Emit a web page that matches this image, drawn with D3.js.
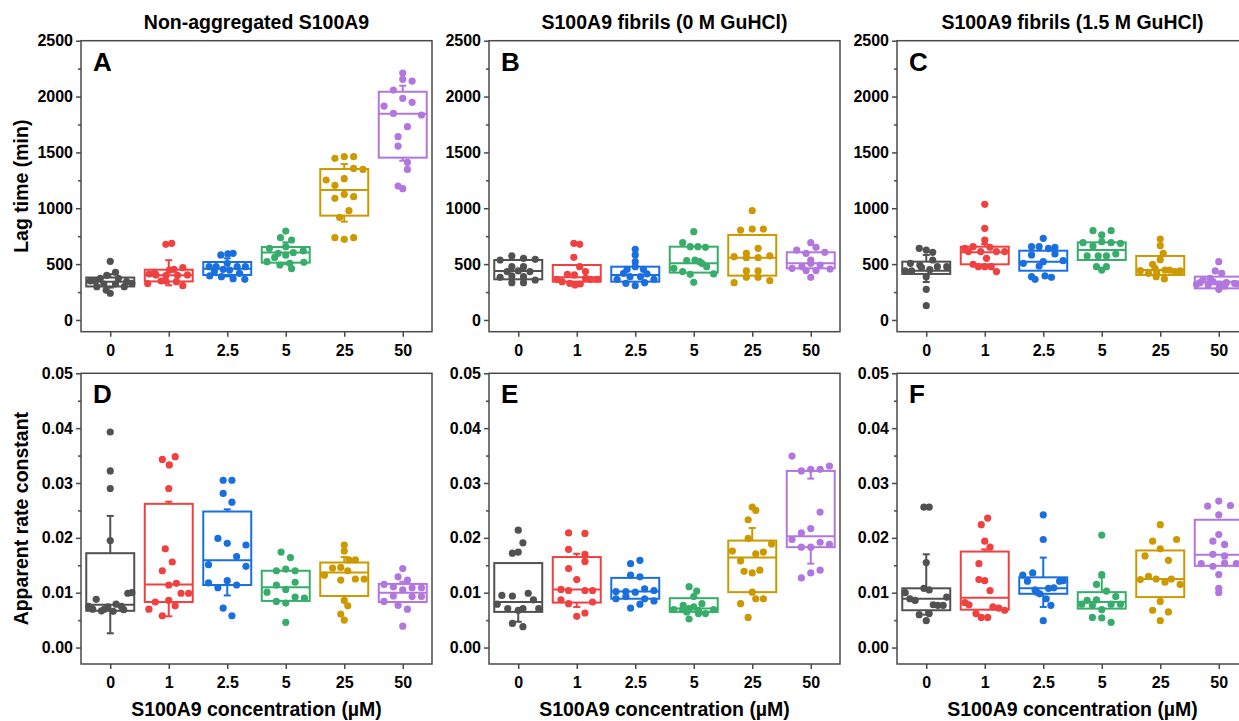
<!DOCTYPE html>
<html lang="en">
<head>
<meta charset="UTF-8">
<title>S100A9 lag time and rate constant</title>
<script src="https://cdnjs.cloudflare.com/ajax/libs/d3/7.8.5/d3.min.js"></script>
<style>
  body { margin: 0; background: #fff; }
  text { font-family: "Liberation Sans", Arial, sans-serif; font-weight: bold; fill: #000; }
</style>
</head>
<body>
<div id="chart"></div>
<script>
// categories
var concentrations = ["0", "1", "2.5", "5", "25", "50"];
var panelTitles = ["Non-aggregated S100A9", "S100A9 fibrils (0 M GuHCl)", "S100A9 fibrils (1.5 M GuHCl)"];
var panelLetters = [["A", "B", "C"], ["D", "E", "F"]];
var lagTicks = [0, 500, 1000, 1500, 2000, 2500];
var rateTicks = [0, 0.01, 0.02, 0.03, 0.04, 0.05];

// box stats per concentration: [q1, median, q3, whisker low, whisker high]
var lagBoxA = [[300, 343, 380, 290, 410], [345, 400, 450, 310, 535], [403, 459, 519, 390, 552],
               [513, 603, 653, 500, 695], [934, 1163, 1351, 880, 1396], [1453, 1846, 2043, 1426, 2097]];
var lagBoxB = [[364, 439, 537, 364, 537], [343, 382, 492, 343, 492], [343, 403, 477, 343, 477],
               [424, 507, 656, 424, 656], [397, 558, 761, 397, 761], [462, 507, 606, 462, 606]];
var lagBoxC = [[412, 441, 522, 340, 582], [498, 606, 656, 498, 680], [441, 522, 620, 441, 620],
               [537, 626, 695, 537, 695], [403, 447, 573, 403, 573], [283, 343, 388, 283, 388]];
var rateBoxD = [[0.0067, 0.0078, 0.0172, 0.0026, 0.0240], [0.0083, 0.0115, 0.0262, 0.0057, 0.0266],
                [0.0114, 0.0159, 0.0248, 0.0095, 0.0252], [0.0085, 0.0110, 0.0140, 0.0085, 0.0140],
                [0.0094, 0.0137, 0.0155, 0.0094, 0.0165], [0.0083, 0.0100, 0.0116, 0.0083, 0.0120]];
var rateBoxE = [[0.0065, 0.0083, 0.0154, 0.0047, 0.0154], [0.0082, 0.0106, 0.0165, 0.0074, 0.0171],
                [0.0089, 0.0102, 0.0127, 0.0089, 0.0127], [0.0065, 0.0071, 0.0090, 0.0065, 0.0090],
                [0.0101, 0.0164, 0.0195, 0.0101, 0.0218], [0.0183, 0.0203, 0.0322, 0.0153, 0.0308]];
var rateBoxF = [[0.0068, 0.0089, 0.0108, 0.0060, 0.0170], [0.0069, 0.0091, 0.0175, 0.0069, 0.0179],
                [0.0098, 0.0108, 0.0128, 0.0074, 0.0164], [0.0071, 0.0083, 0.0101, 0.0071, 0.0128],
                [0.0092, 0.0125, 0.0177, 0.0092, 0.0177], [0.0149, 0.0169, 0.0233, 0.0149, 0.0233]];

// individual measurements: [jitter (% of category step), value]
var lagPointsA = [
  [[0,525],[9,427],[-6,400],[-17,373],[14,373],[-34,349],[28,343],[37,328],[-23,298],[24,298],[-7,268],[0,239],[-11,322],[9,322],[-26,349]],
  [[-36,325],[-24,418],[-13,349],[-5,349],[1,447],[9,453],[24,468],[-22,403],[13,343],[24,307],[32,403],[-5,397],[15,400],[-33,412],[-5,677],[5,686]],
  [[-11,582],[1,591],[10,597],[-31,477],[-19,477],[-7,453],[4,447],[17,477],[31,477],[-30,394],[-10,388],[10,370],[30,364],[21,418],[-22,433],[0,507]],
  [[0,796],[-9,737],[10,716],[-28,641],[0,656],[-13,597],[13,603],[30,618],[-32,522],[-10,492],[7,507],[31,516],[10,459],[0,580],[-19,560]],
  [[-16,1447],[0,1462],[16,1462],[16,1357],[32,1348],[-31,1253],[-16,1205],[0,1265],[0,1125],[-16,1089],[16,1104],[8,978],[-8,919],[-16,737],[0,722],[16,737]],
  [[0,2210],[0,2154],[16,2139],[-16,2058],[0,1984],[16,1948],[-32,1915],[-16,1849],[32,1835],[8,1730],[-8,1641],[-8,1557],[8,1411],[8,1348],[-8,1199],[0,1175]]
];
var lagPointsB = [
  [[-31,537],[-11,573],[9,552],[29,543],[-11,477],[9,477],[-31,382],[-11,394],[9,388],[29,358],[-11,334],[9,334],[0,439],[-19,433],[20,433]],
  [[-5,686],[5,677],[-5,561],[5,477],[15,433],[-16,409],[-4,403],[-34,364],[-25,343],[-12,328],[-3,313],[6,322],[23,364],[35,364],[15,373]],
  [[0,632],[0,582],[0,522],[-14,453],[14,453],[-31,364],[-16,328],[0,307],[16,334],[32,364],[-9,388],[9,388],[-20,418],[20,412],[0,477]],
  [[0,790],[-19,692],[-6,656],[7,656],[20,650],[-12,531],[2,537],[14,507],[22,477],[-34,462],[-19,433],[-6,409],[34,412],[0,337],[10,522]],
  [[0,978],[-20,805],[0,814],[19,814],[-10,597],[10,641],[-31,567],[-10,558],[10,558],[30,573],[-10,439],[10,439],[-31,334],[-10,382],[10,382],[30,352]],
  [[0,692],[-24,626],[9,650],[-8,597],[24,606],[0,537],[-32,462],[-15,477],[0,507],[16,492],[33,456],[0,382],[-8,442],[9,442]]
];
var lagPointsC = [
  [[-12,641],[0,626],[11,606],[-27,507],[-11,492],[11,537],[-36,439],[-25,439],[-8,468],[19,477],[35,477],[0,388],[0,274],[0,128],[6,450]],
  [[0,1035],[0,820],[0,716],[-34,641],[-20,656],[9,650],[-7,612],[20,612],[34,612],[3,552],[-20,498],[-11,477],[0,477],[11,477],[20,433],[-28,612]],
  [[0,731],[-20,656],[-7,656],[9,641],[20,650],[-20,582],[20,591],[-34,507],[0,522],[34,531],[-7,483],[-20,388],[-14,364],[3,394],[14,382]],
  [[-15,799],[0,761],[16,799],[-32,692],[-15,662],[0,701],[16,692],[32,686],[-25,573],[-6,573],[8,573],[24,591],[-9,477],[0,447],[8,477]],
  [[0,725],[0,665],[5,597],[-13,498],[-34,441],[-20,418],[-7,388],[7,367],[16,447],[34,439],[8,447],[-9,462],[25,433],[0,540],[-6,420]],
  [[0,522],[-6,439],[5,418],[-15,373],[-32,334],[-18,313],[0,322],[13,334],[27,328],[0,274],[-38,319],[-10,343],[10,304],[33,322],[-27,358]]
];
var ratePointsD = [
  [[0,0.0393],[0,0.0322],[0,0.0290],[0,0.0195],[-24,0.0088],[-37,0.0075],[-30,0.0070],[-15,0.0067],[-4,0.0074],[5,0.0066],[10,0.0079],[19,0.0075],[23,0.0069],[30,0.0099],[37,0.0100],[-10,0.0070]],
  [[-11,0.0343],[1,0.0333],[11,0.0348],[0,0.0290],[-6,0.0180],[6,0.0156],[-11,0.0140],[0,0.0114],[13,0.0117],[21,0.0099],[34,0.0099],[-23,0.0083],[0,0.0086],[11,0.0076],[-34,0.0070],[-11,0.0058]],
  [[-7,0.0305],[8,0.0305],[-7,0.0281],[8,0.0265],[-16,0.0199],[0,0.0190],[32,0.0187],[16,0.0166],[-32,0.0151],[32,0.0148],[-32,0.0118],[-16,0.0109],[0,0.0122],[16,0.0114],[-7,0.0072],[8,0.0058]],
  [[-8,0.0174],[8,0.0164],[-16,0.0140],[0,0.0143],[16,0.0140],[-32,0.0101],[-16,0.0114],[0,0.0106],[16,0.0119],[-16,0.0084],[0,0.0081],[16,0.0092],[32,0.0090],[0,0.0046]],
  [[0,0.0187],[0,0.0176],[8,0.0160],[19,0.0160],[-20,0.0145],[-6,0.0146],[-34,0.0132],[6,0.0140],[19,0.0125],[34,0.0125],[-6,0.0123],[0,0.0086],[6,0.0076],[-6,0.0061],[0,0.0050]],
  [[0,0.0144],[-8,0.0129],[8,0.0123],[-32,0.0115],[-16,0.0111],[16,0.0109],[32,0.0109],[0,0.0105],[-16,0.0094],[16,0.0093],[32,0.0093],[-32,0.0084],[-8,0.0077],[8,0.0070],[0,0.0039]]
];
var ratePointsE = [
  [[0,0.0214],[8,0.0191],[-10,0.0172],[0,0.0174],[-28,0.0095],[-10,0.0094],[17,0.0099],[26,0.0087],[-36,0.0079],[-18,0.0071],[0,0.0068],[8,0.0071],[35,0.0071],[-10,0.0044],[8,0.0038]],
  [[-14,0.0209],[14,0.0208],[-14,0.0179],[14,0.0170],[14,0.0157],[-14,0.0144],[0,0.0124],[-27,0.0106],[-14,0.0104],[14,0.0104],[27,0.0104],[-27,0.0087],[-14,0.0080],[27,0.0083],[0,0.0057],[14,0.0063]],
  [[-8,0.0153],[8,0.0159],[-8,0.0132],[8,0.0129],[-33,0.0102],[-16,0.0102],[0,0.0101],[16,0.0107],[32,0.0104],[-33,0.0089],[-16,0.0093],[16,0.0089],[32,0.0085],[-8,0.0072],[8,0.0079]],
  [[-8,0.0111],[5,0.0103],[0,0.0093],[-18,0.0077],[14,0.0080],[-34,0.0069],[-19,0.0069],[-8,0.0071],[0,0.0074],[8,0.0062],[20,0.0062],[34,0.0069],[-8,0.0052],[-12,0.0065],[8,0.0068]],
  [[0,0.0256],[6,0.0250],[-7,0.0233],[-7,0.0199],[33,0.0189],[-34,0.0176],[6,0.0171],[19,0.0174],[-20,0.0158],[-14,0.0139],[0,0.0136],[13,0.0141],[0,0.0101],[6,0.0089],[19,0.0089],[-20,0.0080],[-7,0.0055]],
  [[-32,0.0349],[-16,0.0322],[0,0.0325],[16,0.0325],[32,0.0331],[16,0.0247],[0,0.0217],[-16,0.0209],[-32,0.0197],[-16,0.0183],[0,0.0183],[16,0.0192],[32,0.0188],[0,0.0136],[16,0.0141],[-16,0.0127]]
];
var ratePointsF = [
  [[-4,0.0256],[5,0.0256],[0,0.0155],[-4,0.0108],[5,0.0105],[-36,0.0100],[-28,0.0089],[-19,0.0086],[12,0.0078],[20,0.0077],[29,0.0077],[35,0.0092],[-12,0.0060],[5,0.0062],[0,0.0049]],
  [[5,0.0236],[-6,0.0224],[0,0.0194],[9,0.0183],[-10,0.0153],[-10,0.0124],[0,0.0122],[9,0.0104],[-34,0.0082],[-27,0.0078],[-15,0.0062],[-6,0.0055],[5,0.0055],[14,0.0074],[24,0.0072],[34,0.0068]],
  [[0,0.0242],[0,0.0197],[-18,0.0136],[-35,0.0132],[-27,0.0121],[28,0.0121],[-14,0.0105],[9,0.0108],[18,0.0109],[-6,0.0098],[5,0.0089],[13,0.0077],[0,0.0049],[34,0.0122],[-11,0.0101]],
  [[0,0.0205],[0,0.0133],[-9,0.0115],[8,0.0103],[-25,0.0086],[-9,0.0087],[24,0.0093],[-34,0.0079],[-16,0.0077],[16,0.0079],[32,0.0079],[0,0.0069],[-16,0.0055],[0,0.0054],[16,0.0046]],
  [[0,0.0224],[-13,0.0194],[28,0.0197],[0,0.0180],[-26,0.0167],[14,0.0159],[-34,0.0124],[-20,0.0130],[-7,0.0125],[8,0.0119],[19,0.0125],[34,0.0115],[0,0.0084],[-13,0.0068],[14,0.0065],[0,0.0049]],
  [[-19,0.0258],[0,0.0267],[20,0.0259],[0,0.0242],[0,0.0206],[-10,0.0194],[10,0.0188],[-10,0.0170],[10,0.0167],[-30,0.0153],[-10,0.0148],[10,0.0154],[30,0.0153],[0,0.0133],[0,0.0108],[0,0.0100]]
];

var colors = ["#515151", "#F14040", "#1A6FDF", "#37AD6B", "#CC9900", "#B177DE"];

var W = 1239, H = 721;
var colX = [81, 489, 897], plotW = 351;
var rows = [
  {top: 40.7, bottom: 331.7, domain: [-105, 2500], ticks: lagTicks, minor: 250, fmt: d3.format("d"),
   boxes: [lagBoxA, lagBoxB, lagBoxC], points: [lagPointsA, lagPointsB, lagPointsC], ylabel: "Lag time (min)"},
  {top: 373.3, bottom: 664, domain: [-0.003, 0.05], ticks: rateTicks, minor: 0.005, fmt: d3.format(".2f"),
   boxes: [rateBoxD, rateBoxE, rateBoxF], points: [ratePointsD, ratePointsE, ratePointsF], ylabel: "Apparent rate constant"}
];

var svg = d3.select("#chart").append("svg")
    .attr("width", W).attr("height", H)
    .style("display", "block");
svg.append("rect").attr("width", W).attr("height", H).attr("fill", "#fff");

var axisColor = "#4a4a4a";

rows.forEach(function(row, ri) {
  var h = row.bottom - row.top;
  var y = d3.scaleLinear().domain(row.domain).range([h, 0]);
  var minorVals = d3.range(0, row.domain[1] + row.minor / 2, row.minor)
      .filter(function(v) { return row.ticks.every(function(t) { return Math.abs(t - v) > row.minor / 10; }); });

  colX.forEach(function(cx, ci) {
    var g = svg.append("g").attr("transform", "translate(" + cx + "," + row.top + ")");
    var x = d3.scalePoint().domain(concentrations).range([0, plotW]).padding(0.5);
    var step = x.step();
    var boxW = step * 0.82, capW = 7;

    // frame
    g.append("rect").attr("width", plotW).attr("height", h)
        .attr("fill", "none").attr("stroke", axisColor).attr("stroke-width", 1.5);

    // y axis, major + minor
    var ya = g.append("g").call(d3.axisLeft(y).tickValues(row.ticks).tickFormat(row.fmt).tickSize(5).tickPadding(3));
    var ym = g.append("g").call(d3.axisLeft(y).tickValues(minorVals).tickFormat("").tickSize(3));
    var xa = g.append("g").attr("transform", "translate(0," + h + ")")
        .call(d3.axisBottom(x).tickSize(5).tickPadding(7.6));
    [ya, ym, xa].forEach(function(a) {
      a.select(".domain").remove();
      a.selectAll("line").attr("stroke", axisColor).attr("stroke-width", 1.5);
      a.selectAll("text").style("font-size", "16px").attr("font-family", null);
    });

    var boxes = row.boxes[ci], pts = row.points[ci];

    concentrations.forEach(function(c, k) {
      var b = boxes[k], col = colors[k], xc = x(c);
      var bg = g.append("g").attr("stroke", col).attr("stroke-width", 2).attr("fill", "none");
      bg.append("rect")
          .attr("x", xc - boxW / 2).attr("width", boxW)
          .attr("y", y(b[2])).attr("height", y(b[0]) - y(b[2]));
      bg.append("line").attr("x1", xc - boxW / 2).attr("x2", xc + boxW / 2)
          .attr("y1", y(b[1])).attr("y2", y(b[1]));
      // whiskers from box edges
      [[b[2], b[4]], [b[0], b[3]]].forEach(function(w) {
        if (Math.abs(w[0] - w[1]) < 1e-9) return;
        bg.append("line").attr("x1", xc).attr("x2", xc).attr("y1", y(w[0])).attr("y2", y(w[1]));
        bg.append("line").attr("x1", xc - capW / 2).attr("x2", xc + capW / 2).attr("y1", y(w[1])).attr("y2", y(w[1]));
      });
    });

    concentrations.forEach(function(c, k) {
      g.append("g").selectAll("circle")
          .data(pts[k])
          .enter().append("circle")
          .attr("cx", function(d) { return x(c) + d[0] / 100 * step; })
          .attr("cy", function(d) { return y(d[1]); })
          .attr("r", 3.6)
          .attr("fill", colors[k]);
    });

    // panel letter
    g.append("text").attr("x", 12).attr("y", 30)
        .style("font-size", "26px").text(panelLetters[ri][ci]);

    if (ri === 0) {
      svg.append("text").attr("x", cx + plotW / 2).attr("y", 29.3)
          .attr("text-anchor", "middle").style("font-size", "19.5px").text(panelTitles[ci]);
    } else {
      svg.append("text").attr("x", cx + plotW / 2).attr("y", 716)
          .attr("text-anchor", "middle").style("font-size", "19.5px").text("S100A9 concentration (\u00b5M)");
    }
  });

  svg.append("text")
      .attr("transform", "translate(27.5," + ((row.top + row.bottom) / 2) + ") rotate(-90)")
      .attr("text-anchor", "middle").style("font-size", "19.5px").text(row.ylabel);
});
</script>
</body>
</html>
